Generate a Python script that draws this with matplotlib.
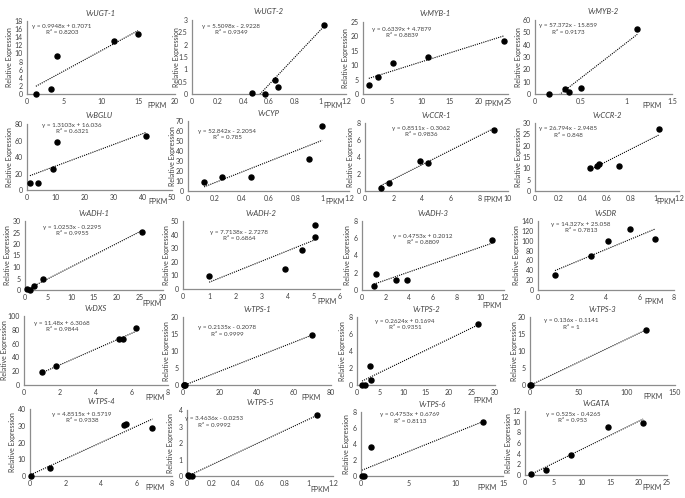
import matplotlib.pyplot as plt
from matplotlib.ticker import MultipleLocator, FormatStrFormatter

plt.rcParams['font.family'] = ['Lato', 'DejaVu Sans']

genes = ['VvUGT-1', 'VvUGT-2', 'VvMYB-1', 'VvMYB-2',
         'VvBGLU', 'VvCYP', 'VvCCR-1', 'VvCCR-2',
         'VvADH-1', 'VvADH-2', 'VvADH-3', 'VvSDR',
         'VvDXS', 'VvTPS-1', 'VvTPS-2', 'VvTPS-3',
         'VvTPS-4', 'VvTPS-5', 'VvTPS-6', 'VvGATA']

# FPKM (x) and relative expression (y) for each gene
fpkm = [
    [1.2, 3.2, 4.0, 11.8, 15.0],
    [0.47, 0.57, 0.65, 0.67, 1.03],
    [1.0, 2.6, 5.2, 11.2, 24.3],
    [0.15, 0.33, 0.37, 0.5, 1.12],
    [1.0, 3.8, 9.0, 10.5, 41.0],
    [0.12, 0.25, 0.47, 0.9, 1.0],
    [1.1, 1.7, 3.85, 4.4, 9.0],
    [0.46, 0.52, 0.53, 0.7, 1.03],
    [0.4, 1.0, 2.0, 3.9, 25.5],
    [1.0, 3.9, 4.55, 5.05, 5.05],
    [1.0, 1.2, 2.9, 3.8, 11.0],
    [1.0, 3.1, 4.1, 5.4, 6.9],
    [1.0, 1.8, 5.3, 5.5, 6.2],
    [0.3, 0.6, 1.0, 69.5],
    [1.1, 1.7, 2.8, 3.0, 26.3],
    [0.3, 0.8, 120.0],
    [0.05, 1.1, 5.3, 5.4, 6.9],
    [0.01, 0.02, 0.04, 1.07],
    [0.1, 0.3, 1.06, 12.9],
    [1.05, 3.7, 8.1, 14.7, 20.8],
]
expression = [
    [0.1, 1.2, 9.4, 13.0, 14.8],
    [0.05, 0.02, 0.57, 0.28, 2.8],
    [3.0, 5.9, 10.7, 12.9, 18.4],
    [0.3, 4.0, 1.5, 4.5, 53.0],
    [8.0, 9.0, 25.0, 58.0, 65.0],
    [8.5, 13.5, 13.5, 32.0, 65.0],
    [0.35, 0.9, 3.5, 3.3, 7.2],
    [10.1, 11.0, 11.9, 11.0, 27.3],
    [0.3, 0.1, 1.7, 4.8, 25.3],
    [9.5, 15.0, 29.0, 38.5, 47.0],
    [0.5, 1.9, 1.2, 1.2, 5.8],
    [30.0, 68.0, 100.0, 123.0, 103.0],
    [19.0, 27.0, 67.0, 66.0, 82.0],
    [0.05, 0.0, 0.02, 14.7],
    [0.05, 0.05, 2.2, 0.6, 7.2],
    [0.0, 0.02, 16.2],
    [0.2, 4.8, 30.4, 30.9, 28.6],
    [0.05, 0.02, 0.0, 3.7],
    [0.05, 0.0, 3.6, 6.75],
    [0.2, 0.9, 3.75, 9.0, 9.75],
]
slopes = [0.9948, 5.5098, 0.6339, 57.372,
          1.3103, 52.842, 0.8511, 26.794,
          1.0253, 7.7138, 0.4753, 14.327,
          11.48, 0.2135, 0.2624, 0.136,
          4.8515, 3.4636, 0.4753, 0.525]
intercepts = [0.7071, -2.9228, 4.7879, -15.859,
              16.036, -2.2054, -0.3062, -2.9485,
              -0.2295, -2.7278, 0.2012, 25.058,
              6.3068, -0.2078, 0.1694, -0.1141,
              0.5719, -0.0253, 0.6769, -0.4265]
r_squared = [0.8203, 0.9349, 0.8839, 0.9173,
             0.6321, 0.785, 0.9836, 0.848,
             0.9955, 0.6864, 0.8809, 0.7813,
             0.9844, 0.9999, 0.9351, 1,
             0.9338, 0.9992, 0.8113, 0.953]

x_max = [20, 1.2, 25, 1.5, 50, 1.2, 10, 1.2, 30, 6, 12, 8, 8, 80, 30, 150, 8, 1.2, 15, 25]
x_step = [5, 0.2, 5, 0.5, 10, 0.2, 2, 0.2, 5, 1, 2, 2, 2, 20, 5, 50, 2, 0.2, 5, 5]
y_max = [18, 3, 25, 60, 80, 70, 8, 30, 30, 50, 8, 140, 100, 20, 8, 20, 40, 4, 8, 12]
y_step = [2, 0.5, 5, 10, 20, 10, 2, 5, 5, 10, 2, 20, 20, 5, 2, 5, 10, 1, 2, 2]

# layout in pixels
W, H = 685, 498
boxes = [(27, 175, 21, 94), (192, 346, 20, 94), (363, 508, 22, 94), (535, 672, 20, 94),
         (27, 172, 124, 190), (188, 349, 121, 191), (365, 508, 123, 191), (535, 679, 123, 191),
         (25, 163, 221, 290), (183, 340, 221, 289), (362, 504, 221, 290), (538, 674, 221, 290),
         (24, 168, 316, 385), (183, 331, 317, 385), (357, 495, 317, 385), (530, 675, 317, 385),
         (30, 172, 409, 476), (187, 333, 410, 476), (361, 503, 412, 476), (525, 667, 411, 475)]
ylab_offset = [17, 16, 18, 16,
               17, 16, 14, 16,
               17, 16, 14, 22,
               19, 16, 14, 16,
               17, 16, 14, 16]
eq_pos = [(62, 29.5), (231, 29.5), (402, 32.5), (568, 29),
          (72, 128.5), (227, 134.5), (421, 131.5), (568, 132),
          (72, 230.5), (239, 235.5), (423, 239.5), (581, 227.5),
          (62, 326.5), (227, 331), (405, 324.5), (571, 324),
          (82, 417.5), (214, 422), (410, 418), (573, 417.5)]
fpkm_pos = [(157, 105), (333, 106), (494, 104), (652, 105),
            (158, 201), (335, 201), (493, 199), (666, 202),
            (152, 303), (327, 302), (492, 305), (654, 302),
            (155, 397), (311, 397), (483, 400), (653, 396),
            (155, 487), (320, 489), (487, 487), (652, 487)]

txt = '#404040'
fig = plt.figure(figsize=(6.85, 4.98), dpi=100)

for i, gene in enumerate(genes):
    l, r, t, b = boxes[i]
    ax = fig.add_axes([l / W, 1 - b / H, (r - l) / W, (b - t) / H])
    xs, ys = fpkm[i], expression[i]
    m, c = slopes[i], intercepts[i]
    x0, x1 = min(xs), max(xs)
    ax.plot([x0, x1], [m * x0 + c, m * x1 + c], color='black', lw=0.8, ls=(0, (1, 1)))
    ax.plot(xs, ys, 'o', color='black', ms=3.6, clip_on=False, zorder=3)

    ax.set_xlim(0, x_max[i])
    ax.set_ylim(0, y_max[i])
    ax.xaxis.set_major_locator(MultipleLocator(x_step[i]))
    ax.yaxis.set_major_locator(MultipleLocator(y_step[i]))
    ax.xaxis.set_major_formatter(FormatStrFormatter('%g'))
    ax.yaxis.set_major_formatter(FormatStrFormatter('%g'))
    ax.tick_params(length=0, labelsize=5, labelcolor=txt, pad=3)
    for s in ['top', 'right']:
        ax.spines[s].set_visible(False)
    for s in ['left', 'bottom']:
        ax.spines[s].set_color('#8c8c8c')
        ax.spines[s].set_linewidth(0.9)

    # title, axis labels and trendline equation
    fig.text((l + r) / 2 / W, 1 - (t - 8) / H, gene, ha='center', va='center',
             fontsize=5.5, style='italic', color=txt)
    fig.text((l - ylab_offset[i]) / W, 1 - (t + b) / 2 / H, 'Relative Expression',
             rotation=90, ha='center', va='center', fontsize=5, color=txt)
    fig.text(fpkm_pos[i][0] / W, 1 - fpkm_pos[i][1] / H, 'FPKM', ha='center', va='center',
             fontsize=5, color=txt)
    sign = '+' if c >= 0 else '-'
    eq = 'y = %sx %s %s\nR² = %g' % ('%.5g' % m, sign, '%.5g' % abs(c), r_squared[i])
    fig.text(eq_pos[i][0] / W, 1 - eq_pos[i][1] / H, eq, ha='center', va='center',
             fontsize=4.5, color=txt, linespacing=1.3)

plt.savefig('out.png', dpi=100)
